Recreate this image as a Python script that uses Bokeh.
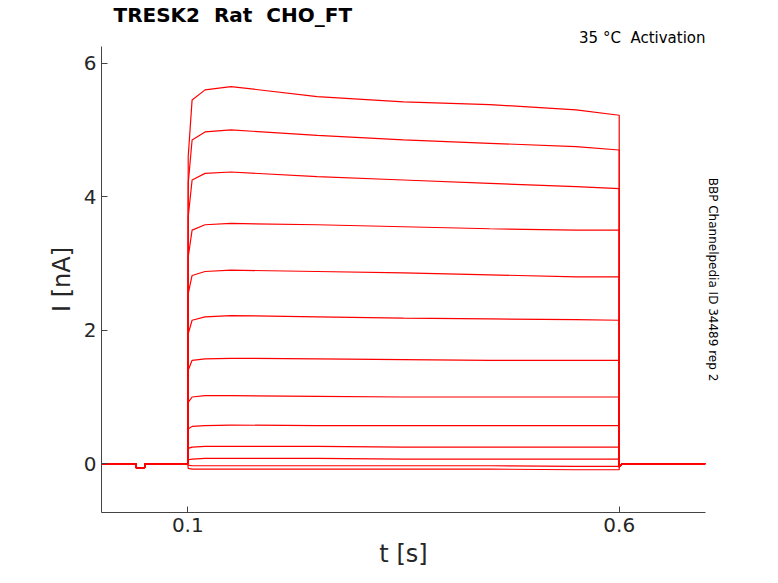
from bokeh.plotting import figure
from bokeh.models import Title, FixedTicker, Range1d, LinearAxis
from bokeh.embed import file_html
from bokeh.resources import INLINE

step_times = [0.1005, 0.105, 0.12, 0.15, 0.25, 0.35, 0.45, 0.55, 0.6]
traces = [
    [4.6, 5.45, 5.6, 5.65, 5.5, 5.42, 5.38, 5.3, 5.22],
    [4.2, 4.85, 4.97, 5.0, 4.92, 4.85, 4.8, 4.75, 4.7],
    [3.7, 4.25, 4.35, 4.37, 4.3, 4.25, 4.2, 4.15, 4.12],
    [3.1, 3.5, 3.58, 3.6, 3.58, 3.55, 3.52, 3.5, 3.5],
    [2.55, 2.82, 2.88, 2.9, 2.88, 2.86, 2.83, 2.8, 2.8],
    [1.95, 2.15, 2.2, 2.22, 2.2, 2.18, 2.17, 2.16, 2.15],
    [1.4, 1.55, 1.57, 1.58, 1.57, 1.56, 1.55, 1.55, 1.55],
    [0.92, 1.0, 1.02, 1.02, 1.01, 1.0, 1.0, 1.0, 1.0],
    [0.52, 0.56, 0.57, 0.58, 0.57, 0.57, 0.57, 0.57, 0.57],
    [0.23, 0.25, 0.26, 0.26, 0.26, 0.25, 0.25, 0.25, 0.25],
    [0.06, 0.07, 0.08, 0.08, 0.08, 0.07, 0.07, 0.07, 0.07],
    [-0.02, -0.03, -0.03, -0.03, -0.03, -0.03, -0.03, -0.04, -0.04],
    [-0.07, -0.08, -0.08, -0.08, -0.08, -0.08, -0.08, -0.09, -0.09],
]
pre_times = [0.0, 0.04, 0.04, 0.05, 0.05, 0.1]
pre_vals = [0.0, 0.0, -0.06, -0.06, 0.0, 0.0]
post_times = [0.6, 0.603, 0.7]
post_vals = [-0.05, 0.0, 0.0]
x_ticks = [0.1, 0.6]
y_ticks = [0, 2, 4, 6]

p = figure(width=770, height=575, output_backend="svg", toolbar_location=None,
           x_range=Range1d(0.0, 0.7), y_range=Range1d(-0.73, 6.25),
           min_border_left=101, min_border_top=10, min_border_right=65, min_border_bottom=63)
p.outline_line_color = None
p.grid.visible = False
p.title_location = None
for tr in traces:
    xs = pre_times + [0.1] + step_times + post_times
    ys = pre_vals + [0.0] + tr + post_vals
    p.line(xs, ys, color="red", line_width=1.2)

p.xaxis.ticker = FixedTicker(ticks=x_ticks)
p.yaxis.ticker = FixedTicker(ticks=y_ticks)
for ax in (p.xaxis[0], p.yaxis[0]):
    ax.major_label_text_font_size = "20px"
    ax.major_label_text_color = "#262626"
    ax.axis_label_text_font_size = "24px"
    ax.axis_label_text_font_style = "normal"
    ax.axis_label_text_color = "#262626"
    ax.minor_tick_line_color = None
    ax.major_tick_in = 6
    ax.major_tick_out = 0
    ax.axis_line_color = "#444444"
    ax.major_tick_line_color = "#444444"
    ax.major_label_text_font = "DejaVu Sans"
    ax.axis_label_text_font = "DejaVu Sans"
p.xaxis.axis_label = "t [s]"
p.yaxis.axis_label = "I [nA]"

p.add_layout(Title(text="35\u00a0°C\u00a0\u00a0Activation", align="right", text_font="DejaVu Sans",
                   text_font_size="15px", text_font_style="normal", text_color="black",
                   offset=0, standoff=0), "above")
p.add_layout(Title(text="TRESK2\u00a0\u00a0Rat\u00a0\u00a0CHO_FT", align="left", text_font="DejaVu Sans",
                   text_font_size="20px", text_font_style="bold", text_color="black",
                   offset=12, standoff=0), "above")

rax = LinearAxis(ticker=FixedTicker(ticks=[]), axis_line_color=None,
                 major_tick_line_color=None, minor_tick_line_color=None,
                 major_label_text_font_size="0px",
                 axis_label="BBP Channelpedia ID 34489 rep 2", axis_label_orientation="parallel",
                 axis_label_text_font="DejaVu Sans", axis_label_text_font_size="12px",
                 axis_label_text_font_style="normal", axis_label_text_color="black",
                 axis_label_standoff=0)
p.add_layout(rax, "right")

open("out.html", "w").write(file_html(p, INLINE))
